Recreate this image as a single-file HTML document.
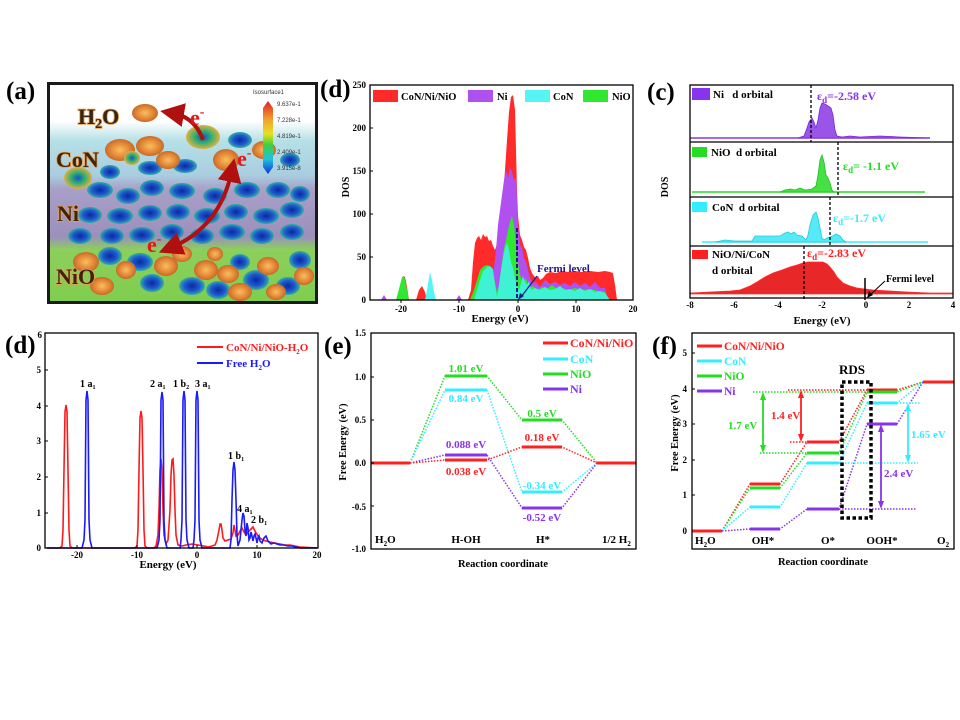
<!DOCTYPE html>
<html><head><meta charset="utf-8"><style>
html,body{margin:0;padding:0;background:#fff;}
svg{display:block;font-family:"Liberation Serif",serif;font-weight:bold;}
</style></head><body>
<svg width="960" height="720" viewBox="0 0 960 720" xmlns="http://www.w3.org/2000/svg">
<defs>
<linearGradient id="bg" x1="0" y1="0" x2="0" y2="1">
<stop offset="0" stop-color="#ffffff"/><stop offset="0.17" stop-color="#ffffff"/>
<stop offset="0.26" stop-color="#b6e0e6"/><stop offset="0.42" stop-color="#a9cde0"/>
<stop offset="0.48" stop-color="#a8a0c8"/><stop offset="0.70" stop-color="#9c8fbc"/>
<stop offset="0.76" stop-color="#8ccf5c"/><stop offset="1" stop-color="#7fce4e"/>
</linearGradient>
<radialGradient id="bb"><stop offset="0" stop-color="#0a2a9a"/><stop offset="0.6" stop-color="#1e5ad0"/><stop offset="1" stop-color="#35b0a0"/></radialGradient>
<radialGradient id="ob"><stop offset="0" stop-color="#f5c060"/><stop offset="0.6" stop-color="#e68a38"/><stop offset="1" stop-color="#c86a28"/></radialGradient>
<radialGradient id="gb"><stop offset="0" stop-color="#1a50c8"/><stop offset="0.5" stop-color="#30b070"/><stop offset="1" stop-color="#e0b040"/></radialGradient>
<linearGradient id="cbar" x1="0" y1="0" x2="0" y2="1">
<stop offset="0" stop-color="#e02020"/><stop offset="0.25" stop-color="#f0a030"/><stop offset="0.45" stop-color="#e8e020"/><stop offset="0.6" stop-color="#40d040"/><stop offset="0.8" stop-color="#20c0e0"/><stop offset="1" stop-color="#1030e0"/>
</linearGradient>
<clipPath id="ca"><rect x="49" y="84" width="267" height="218"/></clipPath>
<marker id="ar" markerWidth="6" markerHeight="6" refX="3" refY="3" orient="auto"><path d="M0,0 L6,3 L0,6 z" fill="#b01010"/></marker>
<marker id="ars" markerWidth="6" markerHeight="6" refX="3" refY="3" orient="auto-start-reverse"><path d="M0,0 L6,3 L0,6 z" fill="#b01010"/></marker>
</defs>

<!-- ===== Panel (a) ===== -->
<text x="6" y="99" font-size="25">(a)</text>
<g clip-path="url(#ca)">
<rect x="49" y="84" width="267" height="218" fill="url(#bg)"/>
<g fill="url(#bb)">
<ellipse cx="100" cy="190" rx="13" ry="8"/><ellipse cx="128" cy="196" rx="12" ry="8"/><ellipse cx="152" cy="188" rx="12" ry="8"/>
<ellipse cx="182" cy="191" rx="13" ry="8"/><ellipse cx="215" cy="196" rx="12" ry="8"/><ellipse cx="247" cy="190" rx="13" ry="8"/>
<ellipse cx="278" cy="190" rx="12" ry="8"/><ellipse cx="300" cy="194" rx="10" ry="8"/>
<ellipse cx="90" cy="215" rx="12" ry="8"/><ellipse cx="120" cy="216" rx="13" ry="8"/><ellipse cx="150" cy="213" rx="12" ry="8"/>
<ellipse cx="178" cy="212" rx="12" ry="8"/><ellipse cx="207" cy="216" rx="13" ry="8"/><ellipse cx="236" cy="212" rx="12" ry="8"/>
<ellipse cx="266" cy="216" rx="13" ry="8"/><ellipse cx="292" cy="210" rx="12" ry="8"/>
<ellipse cx="80" cy="236" rx="12" ry="8"/><ellipse cx="112" cy="236" rx="12" ry="8"/><ellipse cx="142" cy="235" rx="13" ry="8"/>
<ellipse cx="172" cy="232" rx="12" ry="8"/><ellipse cx="202" cy="236" rx="12" ry="8"/><ellipse cx="232" cy="232" rx="13" ry="8"/>
<ellipse cx="262" cy="236" rx="12" ry="8"/><ellipse cx="292" cy="232" rx="12" ry="8"/>
<ellipse cx="150" cy="168" rx="12" ry="7"/><ellipse cx="185" cy="166" rx="12" ry="7"/><ellipse cx="110" cy="172" rx="10" ry="7"/>
<ellipse cx="240" cy="140" rx="12" ry="8"/><ellipse cx="290" cy="160" rx="10" ry="7"/>
</g>
<g fill="url(#ob)">
<ellipse cx="145" cy="113" rx="13" ry="9"/>
<ellipse cx="120" cy="150" rx="15" ry="11"/><ellipse cx="150" cy="146" rx="14" ry="10"/><ellipse cx="168" cy="160" rx="12" ry="9"/>
<ellipse cx="226" cy="160" rx="13" ry="11"/><ellipse cx="264" cy="150" rx="12" ry="9"/>
</g>
<g fill="url(#gb)">
<ellipse cx="78" cy="178" rx="14" ry="11"/><ellipse cx="203" cy="137" rx="17" ry="12"/><ellipse cx="132" cy="158" rx="8" ry="7"/>
</g>
<g fill="url(#bb)">
<ellipse cx="110" cy="256" rx="12" ry="9"/><ellipse cx="140" cy="262" rx="13" ry="9"/><ellipse cx="152" cy="283" rx="12" ry="9"/>
<ellipse cx="192" cy="286" rx="13" ry="9"/><ellipse cx="218" cy="290" rx="12" ry="9"/><ellipse cx="256" cy="280" rx="13" ry="10"/>
<ellipse cx="288" cy="286" rx="12" ry="9"/><ellipse cx="300" cy="260" rx="11" ry="9"/><ellipse cx="240" cy="262" rx="10" ry="8"/>
</g>
<g fill="url(#ob)">
<ellipse cx="86" cy="262" rx="13" ry="10"/><ellipse cx="102" cy="286" rx="12" ry="9"/><ellipse cx="126" cy="270" rx="10" ry="9"/>
<ellipse cx="166" cy="266" rx="12" ry="10"/><ellipse cx="182" cy="254" rx="10" ry="8"/><ellipse cx="206" cy="270" rx="12" ry="10"/>
<ellipse cx="228" cy="274" rx="11" ry="9"/><ellipse cx="240" cy="292" rx="12" ry="9"/><ellipse cx="268" cy="266" rx="11" ry="9"/>
<ellipse cx="276" cy="292" rx="10" ry="8"/><ellipse cx="304" cy="276" rx="10" ry="9"/><ellipse cx="215" cy="254" rx="8" ry="7"/>
</g>
</g>
<rect x="48.5" y="83.5" width="268" height="219" fill="none" stroke="#1a1a1a" stroke-width="3"/>
<text x="253" y="94" font-size="6" font-weight="normal" font-family="Liberation Sans,sans-serif" fill="#333">Isosurface1</text>
<path d="M263,108 L268,101 L273,108 L273,167 L268,174 L263,167 Z" fill="url(#cbar)"/>
<g font-size="6" font-weight="normal" font-family="Liberation Sans,sans-serif" fill="#333">
<text x="277" y="106">9.637e-1</text><text x="277" y="122">7.228e-1</text><text x="277" y="138">4.819e-1</text><text x="277" y="154">2.409e-1</text><text x="277" y="170">3.915e-8</text>
</g>
<path d="M203,140 Q195,117 172,113" fill="none" stroke="#b01010" stroke-width="4" marker-end="url(#ar)"/>
<path d="M232,170 Q220,228 170,248" fill="none" stroke="#b01010" stroke-width="4" marker-end="url(#ar)" marker-start="url(#ars)"/>
<g font-size="22" fill="#3b2410" stroke="#e8a050" stroke-width="1.6" paint-order="stroke">
<text x="78" y="124">H<tspan font-size="14" dy="4">2</tspan><tspan dy="-4">O</tspan></text>
<text x="56" y="167">CoN</text><text x="57" y="221">Ni</text><text x="56" y="284">NiO</text>
</g>
<g font-size="22" fill="#e01818">
<text x="190" y="125">e<tspan font-size="14" dy="-9">-</tspan></text>
<text x="237" y="166">e<tspan font-size="14" dy="-9">-</tspan></text>
<text x="147" y="252">e<tspan font-size="14" dy="-9">-</tspan></text>
</g>

<!-- ===== Panel (d) top DOS ===== -->
<text x="320" y="97" font-size="25">(d)</text>
<g>
<polygon fill="#ff2a2a" points="372,300 382,300 384,297 386,300 398,300 401,287 403,276 405,277 407,287 409,300 416,300 419,290 422,286 425,292 427,300 457,300 459,297 461,300 468,300 471,290 473,262 475,243 477,238 479,236 481,240 483,234 485,237 487,236 489,241 491,240 493,246 495,250 497,244 499,236 501,224 503,196 505,170 507,140 509,112 511,97 513,95 515,110 516,150 517,190 518,215 520,235 522,240 524,247 526,250 528,258 530,268 532,273 534,276 536,278 538,276 540,280 543,278 546,274 550,272 556,273 562,271 568,272 575,271 582,272 590,271 598,272 605,271 610,272 613,273 615,285 617,300"/>
<polygon fill="#b050f0" points="490,300 492,285 494,268 496,250 498,225 500,210 502,195 504,180 506,170 508,178 510,168 512,172 514,180 516,178 517,200 518,225 520,245 522,248 524,258 526,262 528,270 530,278 533,283 536,282 540,287 545,280 550,284 555,282 560,285 565,283 570,286 575,282 580,286 585,283 590,287 595,282 600,288 605,288 608,300"/>
<polygon fill="#b050f0" points="381,300 384,295 387,300"/><polygon fill="#b050f0" points="456,300 459,295 462,300"/>
<polygon fill="#30e830" points="470,300 474,290 477,280 480,270 484,266 488,265 492,270 495,282 497,292 499,285 502,262 504,248 506,240 508,230 510,222 512,216 514,225 516,245 518,262 520,275 523,283 526,278 529,288 533,286 537,290 542,287 547,289 552,285 557,289 562,288 568,290 575,288 582,290 590,289 598,291 605,292 609,300"/>
<polygon fill="#30e830" points="396,300 399,289 402,277 404,276 406,285 409,300"/>
<polygon fill="#3ff2d4" points="474,300 477,290 480,280 483,271 487,267 490,266 493,269 495,285 497,297 499,285 501,270 503,258 505,248 507,243 509,250 511,262 513,268 515,278 517,285 519,290 521,283 523,276 525,282 527,285 529,281 531,290 535,288 540,290 545,287 550,290 555,289 560,286 565,290 570,289 575,291 580,288 585,291 590,289 595,292 600,291 605,293 610,300"/>
<polygon fill="#55f5f5" points="425,300 427,290 429,278 430,272 432,280 434,292 436,300"/>
<line x1="517" y1="228" x2="517" y2="300" stroke="#1a1a8a" stroke-width="2" stroke-dasharray="4 2"/>
<text x="537" y="272" font-size="11" fill="#1a1a8a">Fermi level</text>
<line x1="537" y1="276" x2="521" y2="297" stroke="#1a1a8a" stroke-width="1.2"/>
<path d="M518,300 L520,293 L524,296 Z" fill="#1a1a8a"/>
<rect x="370" y="85" width="263" height="215" fill="none" stroke="#000" stroke-width="1.3"/>
<rect x="373" y="90" width="25" height="12" fill="#ff2a2a"/><text x="401" y="100" font-size="10.5">CoN/Ni/NiO</text>
<rect x="468" y="90" width="25" height="12" fill="#b050f0"/><text x="497" y="100" font-size="10.5">Ni</text>
<rect x="525" y="90" width="25" height="12" fill="#55f5f5"/><text x="553" y="100" font-size="10.5">CoN</text>
<rect x="583" y="90" width="25" height="12" fill="#30e830"/><text x="612" y="100" font-size="10.5">NiO</text>
<g font-size="9" text-anchor="end">
<text x="366" y="88">250</text><text x="366" y="131">200</text><text x="366" y="174">150</text><text x="366" y="217">100</text><text x="366" y="260">50</text><text x="366" y="303">0</text>
</g>
<g stroke="#000" stroke-width="1"><line x1="370" y1="128" x2="373" y2="128"/><line x1="370" y1="171" x2="373" y2="171"/><line x1="370" y1="214" x2="373" y2="214"/><line x1="370" y1="257" x2="373" y2="257"/>
<line x1="401" y1="300" x2="401" y2="303"/><line x1="459" y1="300" x2="459" y2="303"/><line x1="518" y1="300" x2="518" y2="303"/><line x1="576" y1="300" x2="576" y2="303"/></g>
<g font-size="9" text-anchor="middle">
<text x="401" y="312">-20</text><text x="459" y="312">-10</text><text x="518" y="312">0</text><text x="576" y="312">10</text><text x="633" y="312">20</text>
</g>
<text x="500" y="322" font-size="11" text-anchor="middle">Energy (eV)</text>
<text transform="translate(349,187) rotate(-90)" font-size="10" text-anchor="middle">DOS</text>
</g>

<!-- ===== Panel (c) ===== -->
<text x="647" y="100" font-size="25">(c)</text>
<g>
<line x1="690" y1="138" x2="930" y2="138" stroke="#8833ee" stroke-width="1.5"/>
<polygon fill="#9a55e8" stroke="#7a2ad8" stroke-width="0.8" points="798,138 804,136 807,128 809,122 812,118 814,122 816,128 818,120 820,108 822,103 825,104 828,106 831,108 833,115 835,130 837,136 842,137 850,136 860,137 880,136 900,137 930,138"/>
<line x1="811" y1="85" x2="811" y2="142" stroke="#000" stroke-width="1.3" stroke-dasharray="3 2"/>
<rect x="692" y="88" width="18" height="12" fill="#8833ee"/>
<text x="713" y="98" font-size="11">Ni&#160;&#160;&#160;d orbital</text>
<text x="817" y="100" font-size="12" fill="#8833ee">ε<tspan font-size="9" dy="3">d</tspan><tspan dy="-3">=-2.58 eV</tspan></text>
<line x1="692" y1="192" x2="925" y2="192" stroke="#22dd22" stroke-width="1.5"/>
<polygon fill="#44e044" stroke="#22c022" stroke-width="0.8" points="780,192 785,190 790,189 795,190 800,188 805,190 812,189 816,186 818,175 820,160 822,155 824,162 826,175 828,178 830,183 832,190 834,192"/>
<line x1="838" y1="142" x2="838" y2="197" stroke="#000" stroke-width="1.3" stroke-dasharray="3 2"/>
<rect x="692" y="147" width="15" height="10" fill="#22dd22"/>
<text x="711" y="156" font-size="11">NiO&#160;&#160;d orbital</text>
<text x="843" y="170" font-size="12" fill="#22dd22">ε<tspan font-size="9" dy="3">d</tspan><tspan dy="-3">= -1.1 eV</tspan></text>
<line x1="702" y1="242" x2="928" y2="242" stroke="#33eeff" stroke-width="1.5"/>
<polygon fill="#55eaf5" stroke="#22ccdd" stroke-width="0.8" points="715,242 720,241 725,240 735,241 745,241 752,241 755,236 760,236 770,236 780,236 785,233 788,232 791,234 794,232 797,235 802,236 806,240 808,235 810,225 813,215 816,212 818,218 820,228 822,238 824,240 827,238 830,237 833,236 836,234 840,236 843,240 846,242"/>
<line x1="830" y1="197" x2="830" y2="246" stroke="#000" stroke-width="1.3" stroke-dasharray="3 2"/>
<rect x="692" y="202" width="15" height="10" fill="#33eeff"/>
<text x="712" y="211" font-size="11">CoN&#160;&#160;d orbital</text>
<text x="833" y="222" font-size="12" fill="#33eeff">ε<tspan font-size="9" dy="3">d</tspan><tspan dy="-3">=-1.7 eV</tspan></text>
<polygon fill="#e82828" stroke="#ff3030" stroke-width="0.8" points="690,294 690,293 710,292 730,291 740,290 750,286 757,282 765,277 773,273 782,270 790,267 797,265 803,263 808,262 813,262 818,262 823,262 827,264 830,267 834,272 837,277 840,280 843,283 850,286 857,288 865,289 873,290 890,291 907,292 930,293 953,293 953,294"/>
<line x1="804" y1="246" x2="804" y2="300" stroke="#000" stroke-width="1.3" stroke-dasharray="3 2"/>
<line x1="865" y1="278" x2="865" y2="300" stroke="#000" stroke-width="1.5"/>
<rect x="692" y="250" width="16" height="9" fill="#ff2020"/>
<text x="712" y="258" font-size="11">NiO/Ni/CoN</text>
<text x="712" y="274" font-size="11">d orbital</text>
<text x="807" y="257" font-size="12" fill="#ff2020">ε<tspan font-size="9" dy="3">d</tspan><tspan dy="-3">=-2.83 eV</tspan></text>
<text x="886" y="282" font-size="10">Fermi level</text>
<line x1="885" y1="281" x2="870" y2="295" stroke="#000" stroke-width="1"/>
<path d="M867,298 L869,291 L873,295 Z" fill="#000"/>
<rect x="690" y="85" width="263" height="213" fill="none" stroke="#000" stroke-width="1.3"/>
<line x1="690" y1="142" x2="953" y2="142" stroke="#000" stroke-width="1.3"/>
<line x1="690" y1="197" x2="953" y2="197" stroke="#000" stroke-width="1.3"/>
<line x1="690" y1="246" x2="953" y2="246" stroke="#000" stroke-width="1.3"/>
<g font-size="9" text-anchor="middle">
<text x="690" y="308">-8</text><text x="734" y="308">-6</text><text x="778" y="308">-4</text><text x="822" y="308">-2</text><text x="866" y="308">0</text><text x="909" y="308">2</text><text x="953" y="308">4</text>
</g>
<text x="822" y="324" font-size="11" text-anchor="middle">Energy (eV)</text>
<text transform="translate(668,187) rotate(-90)" font-size="10" text-anchor="middle">DOS</text>
</g>

<!-- ===== Panel (d) bottom ===== -->
<text x="5" y="353" font-size="25">(d)</text>
<g>
<path fill="none" stroke="#ff1a1a" stroke-width="1.6" d="M47,548 L60,548 L62,546 L63,530 L64,470 L65,412 L66,405 L67,412 L68,470 L69,530 L70,546 L72,548 L135,548 L137,546 L138,530 L139,470 L140,418 L141,411 L142,418 L143,470 L144,530 L145,546 L147,548 L154,548 L156,546 L158,535 L159,510 L160,470 L161,459 L162,470 L163,510 L164,535 L166,544 L168,540 L170,510 L171,475 L172,460 L173,459 L174,475 L175,510 L176,535 L178,545 L182,546 L186,545 L192,544 L198,545 L204,546 L208,547 L212,546 L215,545 L217,540 L219,530 L220,524 L221,524 L222,530 L223,538 L225,541 L228,540 L231,539 L233,533 L234,525 L235,530 L236,536 L238,535 L240,531 L242,528 L244,532 L246,535 L248,532 L250,530 L252,528 L253,527 L254,529 L256,533 L258,536 L260,538 L263,540 L266,541 L270,542 L275,543 L280,544 L285,545 L290,545 L295,546 L300,547 L317,548"/>
<path fill="none" stroke="#1a1aff" stroke-width="1.6" d="M47,548 L82,548 L84,540 L85,520 L86,400 L87,391 L88,400 L89,520 L90,540 L92,548 L157,548 L159,540 L160,520 L161,400 L162,392 L163,400 L164,520 L165,540 L167,548 L180,548 L181,540 L182,520 L183,400 L184,391 L185,400 L186,520 L187,540 L189,548 L193,548 L194,540 L195,520 L196,400 L197,391 L198,400 L199,520 L200,540 L202,548 L230,548 L231,540 L232,500 L233,470 L234,462 L235,470 L236,500 L237,535 L238,546 L240,540 L241,530 L242,520 L243,513 L244,516 L245,530 L246,536 L247,523 L248,528 L249,540 L250,538 L251,532 L252,536 L253,541 L254,536 L255,534 L256,538 L257,543 L258,538 L259,536 L260,541 L262,543 L264,538 L266,536 L268,541 L271,544 L274,543 L277,544 L280,545 L284,545 L288,546 L292,546 L296,547 L300,548 L317,548"/>
<rect x="45" y="333" width="273" height="215" fill="none" stroke="#000" stroke-width="1.3"/>
<g font-size="9" text-anchor="end">
<text x="42" y="338">6</text><text x="41" y="373">5</text><text x="41" y="409">4</text><text x="41" y="444">3</text><text x="41" y="480">2</text><text x="41" y="516">1</text><text x="41" y="551">0</text>
</g>
<g stroke="#000"><line x1="45" y1="370" x2="48" y2="370"/><line x1="45" y1="406" x2="48" y2="406"/><line x1="45" y1="441" x2="48" y2="441"/><line x1="45" y1="477" x2="48" y2="477"/><line x1="45" y1="513" x2="48" y2="513"/>
<line x1="77" y1="548" x2="77" y2="545"/><line x1="137" y1="548" x2="137" y2="545"/><line x1="197" y1="548" x2="197" y2="545"/><line x1="257" y1="548" x2="257" y2="545"/></g>
<g font-size="9" text-anchor="middle">
<text x="77" y="558">-20</text><text x="137" y="558">-10</text><text x="197" y="558">0</text><text x="257" y="558">10</text><text x="317" y="558">20</text>
</g>
<text x="168" y="568" font-size="11" text-anchor="middle">Energy (eV)</text>
<line x1="197" y1="347" x2="223" y2="347" stroke="#ff1a1a" stroke-width="2"/>
<text x="226" y="351" font-size="11" fill="#ff1a1a">CoN/Ni/NiO-H<tspan font-size="7" dy="3">2</tspan><tspan dy="-3">O</tspan></text>
<line x1="197" y1="363" x2="223" y2="363" stroke="#1a1aff" stroke-width="2"/>
<text x="226" y="367" font-size="11" fill="#1a1aff">Free H<tspan font-size="7" dy="3">2</tspan><tspan dy="-3">O</tspan></text>
<g font-size="10">
<text x="80" y="387">1 a<tspan font-size="6" dy="2">1</tspan></text>
<text x="150" y="387">2 a<tspan font-size="6" dy="2">1</tspan></text>
<text x="173" y="387">1 b<tspan font-size="6" dy="2">2</tspan></text>
<text x="195" y="387">3 a<tspan font-size="6" dy="2">1</tspan></text>
<text x="228" y="459">1 b<tspan font-size="6" dy="2">1</tspan></text>
<text x="237" y="512">4 a<tspan font-size="6" dy="2">1</tspan></text>
<text x="251" y="523">2 b<tspan font-size="6" dy="2">1</tspan></text>
</g>
</g>

<!-- ===== Panel (e) ===== -->
<text x="324" y="354" font-size="25">(e)</text>
<g>
<g stroke-width="1.5" stroke-dasharray="1.5 1.5" fill="none">
<polyline stroke="#22dd22" points="410,463 445,376 487,376 522,420 562,420 597,463"/>
<polyline stroke="#33eeff" points="410,463 445,390 487,390 522,492 562,492 597,463"/>
<polyline stroke="#8833ee" points="410,463 445,455 487,455 522,508 562,508 597,463"/>
<polyline stroke="#ff2020" points="410,463 445,460 487,460 522,447 562,447 597,463"/>
</g>
<g stroke-width="3">
<line x1="371" y1="463" x2="410" y2="463" stroke="#ff2020"/><line x1="597" y1="463" x2="636" y2="463" stroke="#ff2020"/>
<line x1="445" y1="376" x2="487" y2="376" stroke="#22dd22"/><line x1="445" y1="390" x2="487" y2="390" stroke="#33eeff"/>
<line x1="445" y1="455" x2="487" y2="455" stroke="#8833ee"/><line x1="445" y1="460" x2="487" y2="460" stroke="#ff2020"/>
<line x1="522" y1="420" x2="562" y2="420" stroke="#22dd22"/><line x1="522" y1="447" x2="562" y2="447" stroke="#ff2020"/>
<line x1="522" y1="492" x2="562" y2="492" stroke="#33eeff"/><line x1="522" y1="508" x2="562" y2="508" stroke="#8833ee"/>
</g>
<g font-size="11" text-anchor="middle">
<text x="466" y="372" fill="#22dd22">1.01 eV</text><text x="466" y="402" fill="#33eeff">0.84 eV</text>
<text x="466" y="448" fill="#8833ee">0.088 eV</text><text x="466" y="475" fill="#ff2020">0.038 eV</text>
<text x="542" y="417" fill="#22dd22">0.5 eV</text><text x="542" y="441" fill="#ff2020">0.18 eV</text>
<text x="542" y="489" fill="#33eeff">-0.34 eV</text><text x="542" y="521" fill="#8833ee">-0.52 eV</text>
</g>
<rect x="371" y="333" width="265" height="216" fill="none" stroke="#000" stroke-width="1.3"/>
<g font-size="9" text-anchor="end">
<text x="366" y="336">1.5</text><text x="366" y="380">1.0</text><text x="366" y="423">0.5</text><text x="366" y="466">0.0</text><text x="366" y="510">-0.5</text><text x="366" y="552">-1.0</text>
</g>
<g stroke="#000"><line x1="371" y1="377" x2="374" y2="377"/><line x1="371" y1="420" x2="374" y2="420"/><line x1="371" y1="463" x2="374" y2="463"/><line x1="371" y1="506" x2="374" y2="506"/></g>
<g stroke-width="3">
<line x1="543" y1="343" x2="568" y2="343" stroke="#ff2020"/><line x1="543" y1="359" x2="568" y2="359" stroke="#33eeff"/>
<line x1="543" y1="374" x2="568" y2="374" stroke="#22dd22"/><line x1="543" y1="389" x2="568" y2="389" stroke="#8833ee"/>
</g>
<g font-size="12">
<text x="570" y="347" fill="#ff2020">CoN/Ni/NiO</text><text x="570" y="363" fill="#33eeff">CoN</text>
<text x="570" y="378" fill="#22dd22">NiO</text><text x="570" y="393" fill="#8833ee">Ni</text>
</g>
<g font-size="11">
<text x="375" y="543">H<tspan font-size="7" dy="3">2</tspan><tspan dy="-3">O</tspan></text>
<text x="466" y="543" text-anchor="middle">H-OH</text>
<text x="543" y="543" text-anchor="middle">H*</text>
<text x="602" y="543">1/2 H<tspan font-size="7" dy="3">2</tspan></text>
</g>
<text x="503" y="567" font-size="10.5" text-anchor="middle">Reaction coordinate</text>
<text transform="translate(346,442) rotate(-90)" font-size="10.5" text-anchor="middle">Free Energy (eV)</text>
</g>

<!-- ===== Panel (f) ===== -->
<text x="652" y="354" font-size="25">(f)</text>
<g>
<g stroke-width="1.5" stroke-dasharray="1.5 1.5" fill="none">
<polyline stroke="#ff2020" points="722,531 750,484 780,484 807,442 839,442 867,390 897,390 923,382"/>
<polyline stroke="#22dd22" points="722,531 750,488 780,488 807,453 839,453 867,392 897,392 923,382"/>
<polyline stroke="#33eeff" points="722,531 750,507 780,507 807,463 839,463 867,403 897,403 923,382"/>
<polyline stroke="#8833ee" points="722,531 750,529 780,529 807,509 839,509 867,424 897,424 923,382"/>
<line x1="753" y1="392" x2="867" y2="392" stroke="#22dd22"/>
<line x1="788" y1="390" x2="867" y2="390" stroke="#ff2020"/>
<line x1="760" y1="453" x2="807" y2="453" stroke="#22dd22"/>
<line x1="790" y1="442" x2="807" y2="442" stroke="#ff2020"/>
<line x1="897" y1="403" x2="920" y2="403" stroke="#33eeff"/>
<line x1="839" y1="463" x2="918" y2="463" stroke="#33eeff"/>
<line x1="839" y1="509" x2="917" y2="509" stroke="#8833ee"/>
</g>
<g stroke-width="3">
<line x1="692" y1="531" x2="722" y2="531" stroke="#ff2020"/><line x1="923" y1="382" x2="954" y2="382" stroke="#ff2020"/>
<line x1="750" y1="484" x2="780" y2="484" stroke="#ff2020"/><line x1="750" y1="488" x2="780" y2="488" stroke="#22dd22"/>
<line x1="750" y1="507" x2="780" y2="507" stroke="#33eeff"/><line x1="750" y1="529" x2="780" y2="529" stroke="#8833ee"/>
<line x1="807" y1="442" x2="839" y2="442" stroke="#ff2020"/><line x1="807" y1="453" x2="839" y2="453" stroke="#22dd22"/>
<line x1="807" y1="463" x2="839" y2="463" stroke="#33eeff"/><line x1="807" y1="509" x2="839" y2="509" stroke="#8833ee"/>
<line x1="867" y1="390" x2="897" y2="390" stroke="#ff2020"/><line x1="867" y1="392" x2="897" y2="392" stroke="#22dd22"/>
<line x1="867" y1="403" x2="897" y2="403" stroke="#33eeff"/><line x1="867" y1="424" x2="897" y2="424" stroke="#8833ee"/>
</g>
<g stroke-width="1.8">
<line x1="763" y1="397" x2="763" y2="448" stroke="#22dd22"/>
<line x1="801" y1="395" x2="801" y2="437" stroke="#ff2020"/>
<line x1="908" y1="408" x2="908" y2="458" stroke="#33eeff"/>
<line x1="881" y1="429" x2="881" y2="504" stroke="#8833ee"/>
</g>
<path d="M763,392 L760,400 L766,400 Z M763,453 L760,445 L766,445 Z" fill="#22dd22"/>
<path d="M801,390 L798,398 L804,398 Z M801,442 L798,434 L804,434 Z" fill="#ff2020"/>
<path d="M908,403 L905,411 L911,411 Z M908,463 L905,455 L911,455 Z" fill="#33eeff"/>
<path d="M881,424 L878,432 L884,432 Z M881,509 L878,501 L884,501 Z" fill="#8833ee"/>
<text x="728" y="429" font-size="11" fill="#22dd22">1.7 eV</text>
<text x="771" y="419" font-size="11" fill="#ff2020">1.4 eV</text>
<text x="911" y="438" font-size="11" fill="#33eeff">1.65 eV</text>
<text x="884" y="477" font-size="11" fill="#8833ee">2.4 eV</text>
<rect x="842" y="382" width="29" height="136" fill="none" stroke="#000" stroke-width="3.5" stroke-dasharray="3.5 2.5"/>
<text x="839" y="374" font-size="13">RDS</text>
<rect x="692" y="333" width="262" height="216" fill="none" stroke="#000" stroke-width="1.3"/>
<g font-size="9" text-anchor="end">
<text x="687" y="356">5</text><text x="687" y="392">4</text><text x="687" y="427">3</text><text x="687" y="463">2</text><text x="687" y="498">1</text><text x="687" y="534">0</text>
</g>
<g stroke="#000"><line x1="692" y1="353" x2="695" y2="353"/><line x1="692" y1="389" x2="695" y2="389"/><line x1="692" y1="424" x2="695" y2="424"/><line x1="692" y1="460" x2="695" y2="460"/><line x1="692" y1="495" x2="695" y2="495"/></g>
<g stroke-width="3">
<line x1="697" y1="346" x2="722" y2="346" stroke="#ff2020"/><line x1="697" y1="361" x2="722" y2="361" stroke="#33eeff"/>
<line x1="697" y1="376" x2="722" y2="376" stroke="#22dd22"/><line x1="697" y1="391" x2="722" y2="391" stroke="#8833ee"/>
</g>
<g font-size="11.5">
<text x="724" y="350" fill="#ff2020">CoN/Ni/NiO</text><text x="724" y="365" fill="#33eeff">CoN</text>
<text x="724" y="380" fill="#22dd22">NiO</text><text x="724" y="395" fill="#8833ee">Ni</text>
</g>
<g font-size="11">
<text x="695" y="544">H<tspan font-size="7" dy="3">2</tspan><tspan dy="-3">O</tspan></text>
<text x="763" y="544" text-anchor="middle">OH*</text>
<text x="828" y="544" text-anchor="middle">O*</text>
<text x="882" y="544" text-anchor="middle">OOH*</text>
<text x="937" y="544">O<tspan font-size="7" dy="3">2</tspan></text>
</g>
<text x="823" y="565" font-size="10.5" text-anchor="middle">Reaction coordinate</text>
<text transform="translate(678,433) rotate(-90)" font-size="10.5" text-anchor="middle">Free Energy (eV)</text>
</g>
</svg>
</body></html>
